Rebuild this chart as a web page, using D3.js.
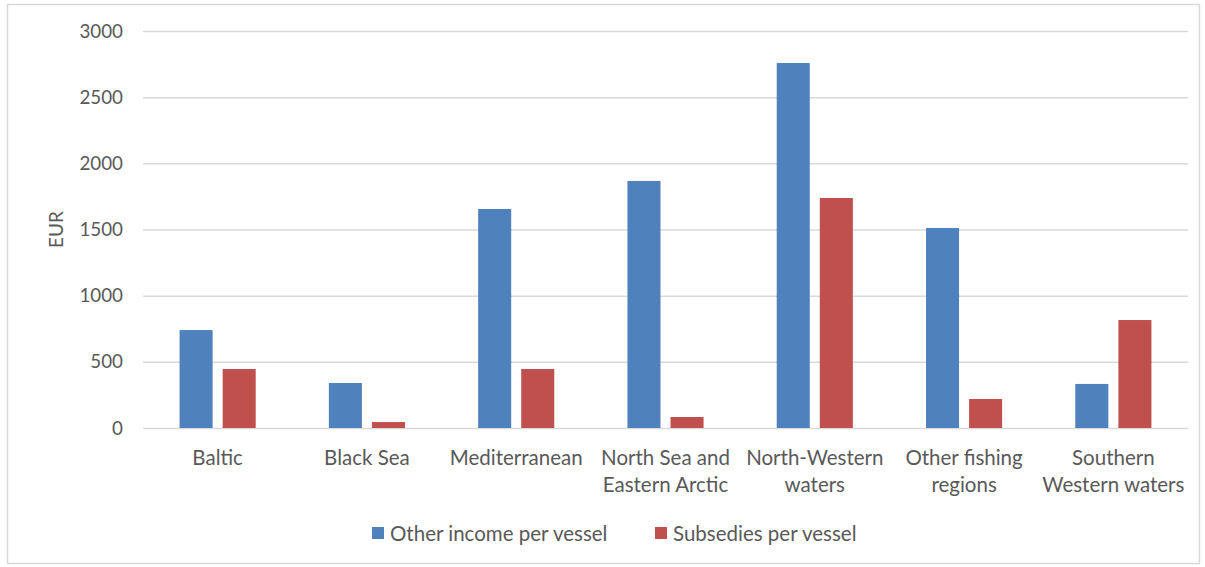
<!DOCTYPE html>
<html><head><meta charset="utf-8">
<script src="https://cdn.jsdelivr.net/npm/d3@7"></script>
<style>body{margin:0;background:#fff}svg{display:block}</style>
</head><body><svg id="c" width="1205" height="567"></svg>
<script>
const categories = [["Baltic"],["Black Sea"],["Mediterranean"],["North Sea and","Eastern Arctic"],["North-Western","waters"],["Other fishing","regions"],["Southern","Western waters"]];
const seriesNames = ["Other income per vessel","Subsedies per vessel"];
const otherIncome = [740, 340, 1655, 1867, 2758, 1511, 333];
const subsidies = [446, 45, 446, 83, 1738, 219, 816];
const yTicks = [0,500,1000,1500,2000,2500,3000];
const colors = ["#4F81BD","#C0504D"];

(function(){
const svg = d3.select("#c");
const font = "Lato, 'Open Sans', sans-serif";
const textColor = "#595959";
svg.append("rect").attr("x",7.5).attr("y",4.5).attr("width",1192).attr("height",559)
  .attr("fill","#fff").attr("stroke","#d9d9d9").attr("stroke-width",1.5);

const pL=143, pR=1188, pT=31, pB=428;
const x = d3.scaleBand().domain(d3.range(categories.length)).range([pL,pR]).paddingInner(0.49).paddingOuter(0.245);
const xs = d3.scaleBand().domain([0,1]).range([0,x.bandwidth()]).paddingInner(0.233);
const y = d3.scaleLinear().domain([0,3000]).range([pB,pT]);

const yAxis = svg.append("g").attr("transform",`translate(${pL},0)`)
  .call(d3.axisLeft(y).tickValues(yTicks).tickSize(-(pR-pL)).tickPadding(20).tickFormat(d3.format("d")));
yAxis.select(".domain").remove();
yAxis.selectAll("line").attr("stroke","#d9d9d9").attr("stroke-width",1.5);
yAxis.selectAll("text").attr("fill",textColor).style("font-family",font).style("font-size","18.8px");

const data = [otherIncome, subsidies];
const g = svg.append("g");
data.forEach((vals,si)=>{
  g.selectAll(null).data(vals).enter().append("rect")
    .attr("x",(d,i)=>x(i)+xs(si)).attr("width",xs.bandwidth())
    .attr("y",d=>y(d)).attr("height",d=>y(0)-y(d)).attr("fill",colors[si]);
});

const xl = svg.append("g");
categories.forEach((lines,i)=>{
  const t = xl.append("text").attr("text-anchor","middle").attr("fill",textColor)
    .style("font-family",font).style("font-size","20.5px");
  lines.forEach((l,j)=>t.append("tspan").attr("x",x(i)+x.bandwidth()/2).attr("y",465+j*27).text(l));
});

svg.append("text").attr("transform",`translate(63,${(pT+pB)/2}) rotate(-90)`)
  .attr("text-anchor","middle").attr("fill",textColor).style("font-family",font).style("font-size","19px").text("EUR");

const legX=[372,655];
seriesNames.forEach((n,i)=>{
  svg.append("rect").attr("x",legX[i]).attr("y",527).attr("width",12).attr("height",12).attr("fill",colors[i]);
  svg.append("text").attr("x",legX[i]+18).attr("y",541).attr("fill",textColor)
    .style("font-family",font).style("font-size","20.5px").text(n);
});
})();
</script></body></html>
